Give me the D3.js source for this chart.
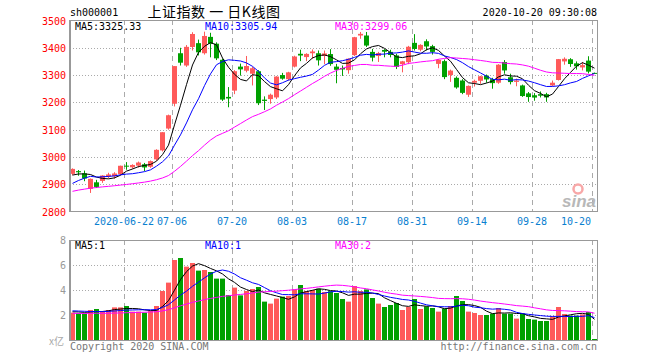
<!DOCTYPE html>
<html>
<head>
<meta charset="utf-8">
<script src="https://cdn.jsdelivr.net/npm/d3@7/dist/d3.min.js"></script>
<style>
body { margin: 0; background: #fff; }
text { font-family: "DejaVu Sans Mono", monospace; font-size: 10px; }
</style>
</head>
<body>
<div id="chart"></div>
<script>
var dates = ['2020-06-09','2020-06-10','2020-06-11','2020-06-12','2020-06-15','2020-06-16','2020-06-17','2020-06-18','2020-06-19','2020-06-22',
  '2020-06-23','2020-06-24','2020-06-29','2020-06-30','2020-07-01','2020-07-02','2020-07-03','2020-07-06','2020-07-07','2020-07-08',
  '2020-07-09','2020-07-10','2020-07-13','2020-07-14','2020-07-15','2020-07-16','2020-07-17','2020-07-20','2020-07-21','2020-07-22',
  '2020-07-23','2020-07-24','2020-07-27','2020-07-28','2020-07-29','2020-07-30','2020-07-31','2020-08-03','2020-08-04','2020-08-05',
  '2020-08-06','2020-08-07','2020-08-10','2020-08-11','2020-08-12','2020-08-13','2020-08-14','2020-08-17','2020-08-18','2020-08-19',
  '2020-08-20','2020-08-21','2020-08-24','2020-08-25','2020-08-26','2020-08-27','2020-08-28','2020-08-31','2020-09-01','2020-09-02',
  '2020-09-03','2020-09-04','2020-09-07','2020-09-08','2020-09-09','2020-09-10','2020-09-11','2020-09-14','2020-09-15','2020-09-16',
  '2020-09-17','2020-09-18','2020-09-21','2020-09-22','2020-09-23','2020-09-24','2020-09-25','2020-09-28','2020-09-29','2020-09-30',
  '2020-10-09','2020-10-12','2020-10-13','2020-10-14','2020-10-15','2020-10-16','2020-10-19','2020-10-20']

var opens = [2938,2948,2940,2883,2907,2912,2928,2929,2937,2968,
  2962,2968,2973,2964,2991,3024,3104,3195,3380,3335,
  3403,3417,3380,3440,3415,3356,3220,3243,3331,3316,
  3305,3314,3210,3212,3218,3300,3285,3331,3378,3366,
  3380,3380,3370,3377,3331,3326,3318,3373,3445,3445,
  3385,3370,3392,3385,3372,3340,3347,3418,3393,3424,
  3406,3341,3351,3300,3290,3280,3228,3272,3279,3298,
  3285,3272,3348,3292,3275,3262,3233,3226,3230,3230,
  3262,3282,3350,3358,3343,3328,3353,3308]
var highs = [2958,2952,2950,2921,2916,2933,2942,2944,2968,2981,
  2973,2983,2978,2987,3028,3091,3155,3333,3400,3410,
  3457,3430,3459,3455,3420,3360,3256,3318,3342,3370,
  3330,3318,3222,3232,3296,3308,3312,3371,3393,3380,
  3394,3390,3390,3395,3341,3335,3361,3440,3458,3458,
  3396,3385,3395,3393,3378,3352,3407,3450,3413,3431,
  3411,3358,3357,3320,3295,3285,3262,3283,3297,3302,
  3290,3340,3355,3305,3287,3265,3238,3234,3240,3235,
  3280,3359,3365,3362,3350,3348,3369,3309]
var lows = [2933,2931,2911,2868,2886,2905,2922,2920,2933,2953,
  2957,2961,2948,2960,2986,3020,3100,3185,3335,3330,
  3390,3372,3375,3365,3355,3205,3182,3230,3298,3310,
  3262,3190,3172,3195,3212,3283,3280,3328,3351,3351,
  3360,3335,3340,3334,3270,3297,3305,3370,3433,3403,
  3350,3348,3365,3365,3322,3310,3340,3390,3387,3390,
  3375,3325,3285,3275,3250,3230,3220,3258,3268,3272,
  3250,3268,3305,3266,3259,3220,3202,3206,3218,3202,
  3259,3280,3338,3330,3320,3317,3306,3305]
var closes = [2956.11,2943.75,2920.90,2919.74,2890.03,2931.75,2935.87,2939.32,2967.63,2965.27,
  2970.62,2979.55,2961.52,2984.67,3025.98,3090.57,3152.81,3332.88,3345.34,3403.44,
  3450.59,3383.32,3443.29,3414.62,3361.30,3210.10,3214.13,3314.15,3320.90,3333.16,
  3325.11,3196.77,3205.23,3227.96,3294.55,3286.82,3310.01,3367.97,3371.69,3377.56,
  3386.46,3354.04,3379.25,3340.29,3319.27,3320.73,3360.10,3438.80,3451.09,3408.13,
  3363.90,3380.68,3385.64,3373.58,3329.74,3350.44,3403.81,3395.68,3410.61,3404.80,
  3384.98,3355.37,3292.59,3316.42,3254.63,3234.82,3260.35,3278.81,3295.68,3283.92,
  3270.44,3338.09,3316.94,3274.30,3279.71,3223.18,3219.42,3217.53,3224.36,3218.05,
  3272.08,3358.47,3359.75,3340.51,3332.18,3336.36,3312.50,3305.095]
// volume, 亿
var vols = [2.19,2.13,2.13,2.40,2.48,2.27,2.40,2.61,2.61,2.72,
  2.27,2.27,2.19,2.32,2.72,3.92,4.59,6.40,6.56,5.87,
  6.16,5.55,5.60,5.44,4.91,4.91,3.60,4.19,3.57,3.92,
  4.08,4.24,3.07,2.91,3.31,3.47,3.52,4.05,4.40,3.92,
  4.00,4.10,3.84,3.90,3.76,3.28,3.07,4.32,3.92,4.05,
  3.36,2.91,2.64,2.80,2.96,2.40,2.64,3.28,2.48,2.69,
  2.56,2.27,2.51,2.72,3.52,3.12,2.27,2.16,2.00,2.00,
  2.11,2.56,2.11,2.11,1.71,2.11,1.68,1.63,1.52,1.52,
  1.89,2.64,2.08,1.95,1.95,2.05,2.24,0.08]

// sessions before the window, only used for the moving averages
var priorCloses = [2808.53,2815.49,2810.02,2822.44,2860.08,2878.14,2871.52,2895.34,2894.80,2891.56,
  2898.05,2870.34,2868.46,2875.42,2898.58,2883.74,2867.92,2813.77,2817.97,2846.55,
  2836.80,2836.87,2852.35,2915.43,2921.40,2923.37,2919.25,2930.80,2937.77]
var priorVols = [2.35,2.20,2.05,2.30,2.45,2.20,2.25,2.30,2.10,1.95,
  1.85,1.90,1.75,1.95,1.90,1.80,1.85,1.75,1.80,1.95,
  2.30,2.30,2.60,2.45,2.40,2.20,2.30,2.25,2.35]

var priceTicks = [2800, 2900, 3000, 3100, 3200, 3300, 3400, 3500]
var volTicks = [2, 4, 6, 8]
var dateTicks = ['2020-06-22','2020-07-06','2020-07-20','2020-08-03','2020-08-17','2020-08-31','2020-09-14','2020-09-28','2020-10-20']

var red = '#ff5a5a', green = '#00a000', grid = '#aaa'

function movingAvg(prior, vals, n) {
  var all = prior.concat(vals)
  return vals.map(function(v, i) {
    var end = prior.length + i
    return d3.mean(all.slice(end - n + 1, end + 1))
  })
}

var svg = d3.select('#chart').append('svg')
  .attr('width', 660)
  .attr('height', 360)

var x = d3.scaleBand().domain(dates).range([70, 70 + dates.length * 6])
var y = d3.scaleLinear().domain([2800, 3500]).range([211.5, 20.5])
var yv = d3.scaleLinear().domain([0, 8]).range([340, 240])

// header
svg.append('text').attr('x', 70).attr('y', 16).text('sh000001')
svg.append('text').attr('x', 214).attr('y', 17)
  .attr('text-anchor', 'middle')
  .style('font-family', '"Noto Sans CJK SC"')
  .style('font-size', '14px')
  .style('letter-spacing', '0.5px')
  .text('上证指数 一 日K线图')
svg.append('text').attr('x', 597).attr('y', 16)
  .attr('text-anchor', 'end')
  .text('2020-10-20 09:30:08')

// grid
svg.selectAll('.hgrid').data(priceTicks.slice(1, -1)).enter().append('line')
  .attr('x1', 70).attr('x2', 597)
  .attr('y1', function(d) { return Math.round(y(d)) + 0.5 })
  .attr('y2', function(d) { return Math.round(y(d)) + 0.5 })
  .style('stroke', grid)
  .style('stroke-dasharray', '1,2')
svg.selectAll('.vhgrid').data(volTicks.slice(0, -1)).enter().append('line')
  .attr('x1', 70).attr('x2', 597)
  .attr('y1', function(d) { return Math.round(yv(d)) + 0.5 })
  .attr('y2', function(d) { return Math.round(yv(d)) + 0.5 })
  .style('stroke', grid)
  .style('stroke-dasharray', '1,2')
;[[20, 211], [240, 340]].forEach(function(r) {
  svg.selectAll(null).data(dateTicks).enter().append('line')
    .attr('x1', function(d) { return x(d) + 0.5 })
    .attr('x2', function(d) { return x(d) + 0.5 })
    .attr('y1', r[0]).attr('y2', r[1])
    .style('stroke', grid)
    .style('stroke-dasharray', '5,4')
})

// watermark
svg.append('circle').attr('cx', 578).attr('cy', 189).attr('r', 4.5)
  .style('fill', 'none').style('stroke', '#f8a8a8').style('stroke-width', 2.5)
svg.append('text').attr('x', 596).attr('y', 207)
  .attr('text-anchor', 'end')
  .style('font-family', 'Arial, "Liberation Sans"')
  .style('font-size', '17px').style('font-weight', 'bold').style('font-style', 'italic')
  .style('fill', '#b8b8b8')
  .text('sina')

// candles
var bars = dates.map(function(d, i) {
  return { date: d, o: opens[i], h: highs[i], l: lows[i], c: closes[i], v: vols[i] }
})
function col(d) { return d.c >= d.o ? red : green }

svg.selectAll('.wick').data(bars).enter().append('line')
  .attr('x1', function(d) { return x(d.date) + 2.5 })
  .attr('x2', function(d) { return x(d.date) + 2.5 })
  .attr('y1', function(d) { return y(d.h) })
  .attr('y2', function(d) { return y(d.l) })
  .style('stroke', col)
svg.selectAll('.body').data(bars).enter().append('rect')
  .attr('x', function(d) { return x(d.date) })
  .attr('width', 5)
  .attr('y', function(d) { return y(Math.max(d.o, d.c)) })
  .attr('height', function(d) { return Math.max(1, Math.abs(y(d.o) - y(d.c))) })
  .style('fill', col)

svg.selectAll('.vol').data(bars).enter().append('rect')
  .attr('x', function(d) { return x(d.date) })
  .attr('width', 5)
  .attr('y', function(d) { return yv(d.v) })
  .attr('height', function(d) { return 340 - yv(d.v) })
  .style('fill', col)

// moving averages
var maSpecs = [[5, '#000'], [10, '#0000ff'], [30, '#ff00ff']]
var labelX = [75, 205, 335]
maSpecs.forEach(function(s, k) {
  var pm = movingAvg(priorCloses, closes, s[0])
  var vm = movingAvg(priorVols, vols, s[0])
  svg.append('path').datum(pm)
    .attr('d', d3.line().x(function(d, i) { return x(dates[i]) + 2.5 }).y(function(d) { return y(d) }))
    .style('fill', 'none').style('stroke', s[1])
  svg.append('path').datum(vm)
    .attr('d', d3.line().x(function(d, i) { return x(dates[i]) + 2.5 }).y(function(d) { return yv(d) }))
    .style('fill', 'none').style('stroke', s[1])
  svg.append('text').attr('x', labelX[k]).attr('y', 30)
    .style('fill', s[1])
    .text('MA' + s[0] + ':' + pm[pm.length - 1].toFixed(2))
  svg.append('text').attr('x', labelX[k]).attr('y', 249)
    .style('fill', s[1])
    .text('MA' + s[0] + ':' + Math.floor(vm[vm.length - 1]))
})

// frames
svg.append('rect').attr('x', 70.5).attr('y', 20.5).attr('width', 527).attr('height', 191)
  .style('fill', 'none').style('stroke', '#999')
svg.append('rect').attr('x', 70.5).attr('y', 240.5).attr('width', 527).attr('height', 100)
  .style('fill', 'none').style('stroke', '#999')
svg.append('line').attr('x1', 70).attr('x2', 70).attr('y1', 20).attr('y2', 212)
  .style('stroke', '#999').style('stroke-width', 2)
svg.append('line').attr('x1', 70).attr('x2', 70).attr('y1', 240).attr('y2', 341)
  .style('stroke', '#999').style('stroke-width', 2)

// axis labels
svg.selectAll('.pl').data(priceTicks).enter().append('text')
  .attr('x', 66).attr('y', function(d) { return y(d) + 4 })
  .attr('text-anchor', 'end')
  .style('fill', '#f00')
  .text(function(d) { return d })
svg.selectAll('.vl').data(volTicks).enter().append('text')
  .attr('x', 66).attr('y', function(d) { return yv(d) + 4 })
  .attr('text-anchor', 'end')
  .style('fill', '#999')
  .text(function(d) { return d })
svg.append('text').attr('x', 64).attr('y', 345)
  .attr('text-anchor', 'end')
  .style('fill', '#aaa')
  .style('font-family', '"Noto Sans CJK SC"')
  .text('x亿')
var last = dateTicks.length - 1
svg.selectAll('.dl').data(dateTicks).enter().append('text')
  .attr('x', function(d, i) { return i === last ? x(d) - 1 : x(d) })
  .attr('y', 225)
  .attr('text-anchor', function(d, i) { return i === last ? 'end' : 'middle' })
  .style('fill', '#0a80d0')
  .text(function(d, i) { return i === 0 ? d : d.slice(5) })

svg.append('text').attr('x', 70).attr('y', 350)
  .style('fill', '#777')
  .text('Copyright 2020 SINA.COM')
svg.append('text').attr('x', 597).attr('y', 350)
  .attr('text-anchor', 'end')
  .style('fill', '#777')
  .text('http://finance.sina.com.cn')
</script>
</body>
</html>
